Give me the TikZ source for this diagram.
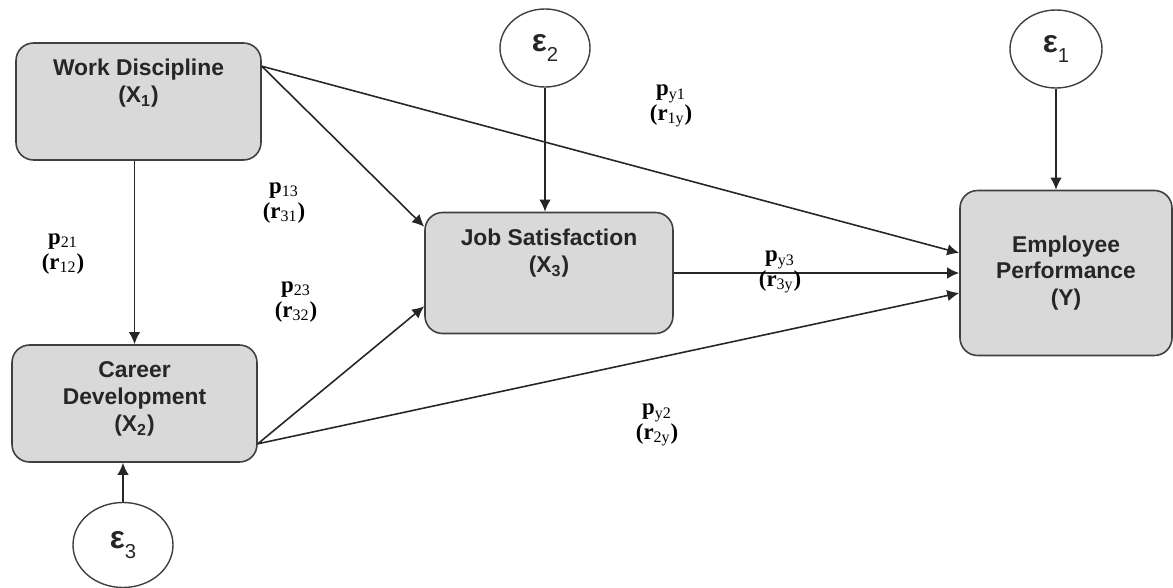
\documentclass[tikz,border=0pt]{standalone}
\usepackage{fontspec}
\setmainfont{Liberation Serif}
\newfontfamily\boxfont{Liberation Sans}
\usepackage{tikz}
\usetikzlibrary{calc}
\usetikzlibrary{positioning}
\usetikzlibrary{arrows.meta}
\usetikzlibrary{shapes.geometric}
\tikzset{>=latex}
\colorlet{boxcol}{black!15}
\colorlet{edgecol}{black!75}
\colorlet{txtcol}{black!85}
\newcommand{\coefsub}[1]{\textsubscript{\mdseries #1}}
\newcommand{\errsub}[1]{\raisebox{-0.3em}{\mdseries\fontsize{11.5}{11.5}\selectfont #1}}

\begin{document}
\begin{tikzpicture}[x=1cm,y=1cm]
  %--------------------------------------------
  % Styles
  %--------------------------------------------
  \tikzset{
    varbox/.style={draw=edgecol, line width=0.9pt, fill=boxcol, rounded corners=10pt,
      minimum width=4.9cm, minimum height=2.34cm},
    boxtext/.style={font=\boxfont\bfseries\fontsize{13}{15.5}\selectfont, text=txtcol,
      align=center, inner sep=0pt, anchor=north},
    errnode/.style={ellipse, draw=edgecol, line width=0.8pt, minimum width=1.84cm,
      minimum height=1.56cm, inner sep=0pt, text=txtcol, font=\boxfont\bfseries\fontsize{18}{20}\selectfont},
    link/.style={-{Latex[length=2.4mm,width=2.3mm]}, line width=0.9pt, black!85},
    coef/.style={font=\bfseries\fontsize{13}{14}\selectfont, align=center, inner sep=0pt}
  }

  \useasboundingbox (0,0) rectangle (23.46,11.74);

  %--------------------------------------------
  % Variables
  %--------------------------------------------
  \node[varbox] (wd) at (2.77,9.71) {};
  \node[varbox] (cd) at (2.69,3.67) {};
  \node[varbox, minimum width=4.96cm, minimum height=2.42cm] (js) at (10.98,6.28) {};
  \node[varbox, minimum width=4.24cm, minimum height=3.3cm,
    font=\boxfont\bfseries\fontsize{13}{15}\selectfont, text=txtcol, align=center] (ep) at (21.32,6.28)
    {Employee\\Performance\\(Y)};

  % texts sit near the top of the boxes
  \node[boxtext] (wdtext) at ($(wd.north)+(0,-0.32)$) {Work Discipline\\(X\textsubscript{1})};
  \node[boxtext] (cdtext) at ($(cd.north)+(0,-0.34)$) {Career\\Development\\(X\textsubscript{2})};
  \node[boxtext] (jstext) at ($(js.north)+(0,-0.34)$) {Job Satisfaction\\(X\textsubscript{3})};

  %--------------------------------------------
  % Error terms
  %--------------------------------------------
  \node[errnode] (e1) at (21.12,10.76) {ε\errsub{1}};
  \node[errnode, minimum width=1.8cm] (e2) at (10.90,10.78) {ε\errsub{2}};
  \node[errnode, minimum width=2.0cm, minimum height=1.7cm] (e3) at (2.46,0.84) {ε\errsub{3}};

  %--------------------------------------------
  % Ends of the paths
  %--------------------------------------------
  \coordinate (wdout) at ($(wd.north east)+(0,-0.48)$);
  \coordinate (cdout) at ($(cd.south east)+(0,0.38)$);
  \coordinate (jsin1) at ($(js.north west)+(0,-0.30)$);
  \coordinate (jsin2) at ($(js.south west)+(0,0.56)$);
  \coordinate (epin1) at ($(ep.west)+(0,0.40)$);
  \coordinate (epin3) at ($(ep.west)+(0,-0.40)$);

  %--------------------------------------------
  % Paths
  %--------------------------------------------
  \draw[link] (wd.south -| cd.north) -- (cd.north);
  \draw[link] (wdout) -- (jsin1);
  \draw[link] (wdout) -- (epin1);
  \draw[link] (cdout) -- (jsin2);
  \draw[link] (cdout) -- (epin3);
  \draw[link] (js.east) -- (js.east -| ep.west);
  \draw[link] (e1) -- (e1 |- ep.north);
  \draw[link] (e2) -- (e2 |- js.north);
  \draw[link] (e3) -- (e3 |- cd.south);

  %--------------------------------------------
  % Path coefficients
  %--------------------------------------------
  \node[coef] (c21) at (1.26,6.66) {p\coefsub{21}\\(r\coefsub{12})};
  \node[coef] (c13) at (5.68,7.68) {p\coefsub{13}\\(r\coefsub{31})};
  \node[coef] (c23) at (5.92,5.70) {p\coefsub{23}\\(r\coefsub{32})};
  \node[coef] (cy1) at (13.42,9.62) {p\coefsub{y1}\\(r\coefsub{1y})};
  \node[coef] (cy3) at (15.60,6.30) {p\coefsub{y3}\\(r\coefsub{3y})};
  \node[coef] (cy2) at (13.14,3.24) {p\coefsub{y2}\\(r\coefsub{2y})};
\end{tikzpicture}
\end{document}
